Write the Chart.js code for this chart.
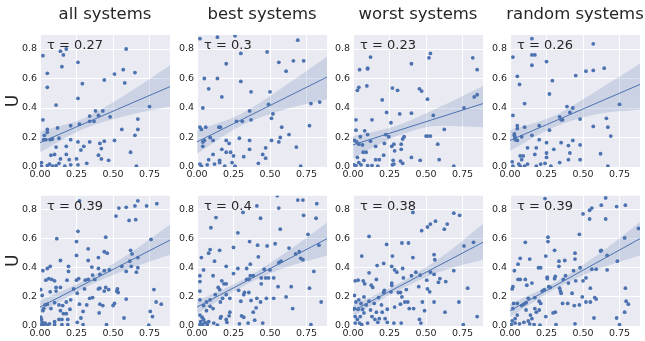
<!DOCTYPE html>
<html>
<head>
<meta charset="utf-8">
<script src="https://cdn.jsdelivr.net/npm/chart.js@4/dist/chart.umd.min.js"></script>
<style>
  body { margin: 0; background: #fff; }
  #wrap { position: relative; width: 645px; height: 341px; overflow: hidden; }
  #wrap canvas { position: absolute; }
</style>
</head>
<body>
<div id="wrap"></div>
<script>
//////////////////////////////////////////////////
// Data

const titles = ['all systems', 'best systems', 'worst systems', 'random systems']
const tauLabels = ['τ = 0.27', 'τ = 0.3', 'τ = 0.23', 'τ = 0.26', 'τ = 0.39', 'τ = 0.4', 'τ = 0.38', 'τ = 0.39']
const yLabel = 'U'
const xTicks = [0, 0.25, 0.5, 0.75]
const yTicks = [0, 0.2, 0.4, 0.6, 0.8]

const allTop = [[0.02,0.755],[0.05,0.635],[0.05,0.54],[0.11,0.42],[0.14,0.785],[0.16,0.76],[0.18,0.80],[0.15,0.68],[0.26,0.71],[0.29,0.565],[0.26,0.465],[0.02,0.32],[0.51,0.63],[0.57,0.66],[0.59,0.80],[0.58,0.57],[0.65,0.64],[0.44,0.59],[0.75,0.41],[0.67,0.325],[0.67,0.255],[0.56,0.255],[0.65,0.215],[0.62,0.10],[0.48,0.34],[0.51,0.18],[0.41,0.16],[0.44,0.175],[0.42,0.125],[0.40,0.08],[0.42,0.055],[0.47,0.045],[0.34,0.345],[0.34,0.31],[0.37,0.31],[0.38,0.38],[0.40,0.35],[0.43,0.38],[0.27,0.29],[0.21,0.28],[0.12,0.265],[0.05,0.255],[0.05,0.235],[0.03,0.215],[0.025,0.185],[0.04,0.185],[0.07,0.185],[0.085,0.19],[0.13,0.195],[0.34,0.17],[0.30,0.14],[0.26,0.17],[0.28,0.115],[0.21,0.185],[0.18,0.14],[0.11,0.135],[0.10,0.085],[0.075,0.08],[0.18,0.085],[0.20,0.05],[0.14,0.055],[0.13,0.025],[0.11,0.01],[0.065,0.02],[0.01,0.03],[0.01,0.005],[0.085,0.005],[0.17,0.005],[0.21,0.015],[0.26,0.015],[0.25,0.055],[0.32,0.025],[0.66,0.005],[0.05,0.01]]

const bestTop = [[0.02,0.87],[0.14,0.88],[0.26,0.89],[0.69,0.86],[0.48,0.78],[0.30,0.77],[0.20,0.70],[0.56,0.71],[0.66,0.72],[0.73,0.72],[0.61,0.65],[0.05,0.60],[0.14,0.60],[0.30,0.58],[0.08,0.53],[0.17,0.475],[0.37,0.51],[0.50,0.51],[0.04,0.40],[0.49,0.425],[0.52,0.36],[0.51,0.33],[0.36,0.38],[0.37,0.32],[0.78,0.43],[0.84,0.44],[0.77,0.28],[0.58,0.27],[0.63,0.22],[0.02,0.27],[0.03,0.255],[0.06,0.27],[0.15,0.27],[0.16,0.27],[0.27,0.31],[0.31,0.31],[0.09,0.20],[0.11,0.18],[0.04,0.17],[0.04,0.14],[0.05,0.18],[0.20,0.18],[0.22,0.16],[0.29,0.195],[0.36,0.18],[0.36,0.12],[0.17,0.12],[0.23,0.10],[0.20,0.10],[0.25,0.075],[0.32,0.07],[0.45,0.085],[0.47,0.13],[0.47,0.06],[0.51,0.18],[0.57,0.20],[0.56,0.17],[0.68,0.135],[0.42,0.025],[0.08,0.05],[0.11,0.085],[0.155,0.045],[0.155,0.03],[0.07,0.015],[0.12,0.02],[0.02,0.02],[0.03,0.005],[0.19,0.005],[0.24,0.03],[0.26,0.005],[0.71,0.005]]

const worstTop = [[0.12,0.745],[0.045,0.66],[0.10,0.67],[0.10,0.665],[0.04,0.54],[0.03,0.52],[0.095,0.55],[0.40,0.70],[0.53,0.77],[0.52,0.74],[0.82,0.74],[0.85,0.66],[0.27,0.535],[0.305,0.52],[0.455,0.53],[0.47,0.515],[0.20,0.455],[0.51,0.46],[0.85,0.49],[0.83,0.475],[0.76,0.40],[0.23,0.37],[0.40,0.365],[0.32,0.36],[0.55,0.35],[0.02,0.32],[0.13,0.32],[0.26,0.30],[0.02,0.25],[0.08,0.245],[0.625,0.255],[0.01,0.18],[0.025,0.17],[0.04,0.155],[0.065,0.15],[0.10,0.22],[0.05,0.205],[0.245,0.205],[0.225,0.22],[0.215,0.16],[0.35,0.205],[0.34,0.19],[0.50,0.21],[0.51,0.21],[0.53,0.21],[0.58,0.155],[0.33,0.155],[0.28,0.155],[0.265,0.14],[0.285,0.11],[0.33,0.12],[0.155,0.14],[0.12,0.175],[0.09,0.10],[0.07,0.10],[0.03,0.065],[0.155,0.05],[0.18,0.05],[0.21,0.08],[0.40,0.065],[0.275,0.045],[0.325,0.04],[0.34,0.025],[0.46,0.045],[0.59,0.05],[0.075,0.045],[0.04,0.03],[0.055,0.015],[0.02,0.01],[0.10,0.01],[0.13,0.01],[0.17,0.005],[0.27,0.015],[0.28,0.02],[0.69,0.005],[0.005,0.015]]

const randomTop = [[0.02,0.745],[0.15,0.87],[0.57,0.835],[0.15,0.76],[0.17,0.76],[0.15,0.69],[0.25,0.715],[0.05,0.615],[0.065,0.56],[0.29,0.585],[0.45,0.62],[0.52,0.65],[0.57,0.655],[0.645,0.67],[0.10,0.43],[0.27,0.495],[0.02,0.35],[0.39,0.41],[0.43,0.40],[0.41,0.37],[0.34,0.34],[0.35,0.32],[0.36,0.32],[0.48,0.325],[0.75,0.425],[0.66,0.33],[0.67,0.27],[0.57,0.275],[0.69,0.21],[0.62,0.09],[0.03,0.225],[0.03,0.215],[0.035,0.20],[0.05,0.28],[0.05,0.26],[0.08,0.205],[0.035,0.185],[0.05,0.18],[0.10,0.27],[0.15,0.215],[0.20,0.28],[0.27,0.25],[0.20,0.185],[0.25,0.165],[0.35,0.165],[0.43,0.18],[0.18,0.13],[0.12,0.13],[0.30,0.12],[0.40,0.145],[0.48,0.15],[0.41,0.095],[0.25,0.095],[0.07,0.075],[0.09,0.075],[0.08,0.05],[0.17,0.085],[0.25,0.065],[0.34,0.03],[0.40,0.05],[0.48,0.05],[0.015,0.035],[0.06,0.02],[0.02,0.005],[0.07,0.005],[0.12,0.02],[0.10,0.005],[0.18,0.005],[0.21,0.02],[0.24,0.025],[0.28,0.005],[0.67,0.005]]

const allBottom = [[0.27,0.86],[0.80,0.84],[0.67,0.86],[0.73,0.825],[0.65,0.825],[0.59,0.815],[0.54,0.81],[0.52,0.755],[0.61,0.725],[0.655,0.73],[0.115,0.60],[0.26,0.65],[0.45,0.61],[0.76,0.595],[0.25,0.58],[0.14,0.45],[0.33,0.53],[0.44,0.51],[0.46,0.50],[0.62,0.52],[0.63,0.495],[0.25,0.485],[0.40,0.47],[0.33,0.45],[0.355,0.405],[0.615,0.445],[0.67,0.47],[0.67,0.40],[0.625,0.41],[0.66,0.37],[0.56,0.41],[0.59,0.375],[0.475,0.385],[0.44,0.38],[0.40,0.395],[0.41,0.355],[0.36,0.35],[0.375,0.32],[0.33,0.32],[0.31,0.315],[0.265,0.325],[0.25,0.315],[0.195,0.375],[0.195,0.41],[0.185,0.315],[0.07,0.41],[0.05,0.395],[0.02,0.38],[0.06,0.325],[0.04,0.315],[0.08,0.32],[0.10,0.31],[0.14,0.265],[0.11,0.265],[0.11,0.24],[0.07,0.235],[0.015,0.21],[0.005,0.25],[0.23,0.255],[0.255,0.225],[0.305,0.255],[0.34,0.19],[0.36,0.195],[0.40,0.255],[0.41,0.26],[0.44,0.24],[0.47,0.25],[0.45,0.265],[0.53,0.255],[0.535,0.23],[0.525,0.24],[0.59,0.185],[0.51,0.155],[0.50,0.14],[0.41,0.15],[0.43,0.14],[0.32,0.145],[0.27,0.15],[0.21,0.18],[0.18,0.165],[0.13,0.145],[0.155,0.14],[0.10,0.16],[0.05,0.15],[0.035,0.145],[0.025,0.12],[0.02,0.105],[0.075,0.12],[0.14,0.105],[0.16,0.085],[0.18,0.085],[0.205,0.115],[0.295,0.10],[0.405,0.09],[0.28,0.055],[0.255,0.025],[0.19,0.045],[0.13,0.045],[0.15,0.045],[0.10,0.03],[0.065,0.015],[0.015,0.025],[0.025,0.01],[0.035,0.02],[0.10,0.01],[0.15,0.01],[0.19,0.01],[0.295,0.01],[0.455,0.01],[0.575,0.055],[0.745,0.005],[0.005,0.06],[0.755,0.10],[0.77,0.065],[0.78,0.25],[0.795,0.165],[0.83,0.15],[0.005,0.005],[0.05,0.005],[0.01,0.045]]

const bestBottom = [[0.55,0.895],[0.69,0.865],[0.725,0.865],[0.82,0.84],[0.41,0.825],[0.315,0.78],[0.56,0.81],[0.435,0.74],[0.13,0.745],[0.73,0.76],[0.815,0.74],[0.095,0.675],[0.57,0.665],[0.28,0.64],[0.76,0.63],[0.36,0.58],[0.535,0.565],[0.48,0.55],[0.415,0.555],[0.835,0.555],[0.63,0.535],[0.25,0.54],[0.09,0.525],[0.08,0.50],[0.155,0.52],[0.03,0.47],[0.42,0.475],[0.70,0.51],[0.675,0.495],[0.71,0.465],[0.725,0.455],[0.575,0.445],[0.56,0.435],[0.12,0.445],[0.20,0.41],[0.365,0.425],[0.045,0.385],[0.28,0.395],[0.11,0.345],[0.02,0.345],[0.46,0.39],[0.50,0.385],[0.525,0.33],[0.47,0.33],[0.44,0.33],[0.49,0.33],[0.44,0.29],[0.385,0.345],[0.365,0.345],[0.355,0.32],[0.34,0.32],[0.25,0.36],[0.34,0.395],[0.80,0.375],[0.645,0.27],[0.555,0.27],[0.77,0.26],[0.17,0.31],[0.185,0.29],[0.20,0.29],[0.145,0.265],[0.155,0.25],[0.125,0.215],[0.09,0.18],[0.065,0.165],[0.045,0.14],[0.02,0.18],[0.02,0.24],[0.02,0.305],[0.20,0.215],[0.225,0.19],[0.175,0.19],[0.16,0.165],[0.285,0.245],[0.325,0.23],[0.355,0.23],[0.32,0.215],[0.30,0.17],[0.41,0.19],[0.37,0.175],[0.405,0.125],[0.435,0.165],[0.475,0.19],[0.525,0.19],[0.61,0.20],[0.655,0.12],[0.85,0.165],[0.305,0.07],[0.32,0.06],[0.385,0.095],[0.225,0.095],[0.22,0.07],[0.165,0.065],[0.16,0.055],[0.20,0.045],[0.205,0.025],[0.29,0.015],[0.35,0.02],[0.45,0.02],[0.395,0.04],[0.02,0.075],[0.035,0.06],[0.045,0.045],[0.025,0.03],[0.055,0.025],[0.08,0.03],[0.115,0.02],[0.14,0.005],[0.02,0.01],[0.04,0.01],[0.07,0.01],[0.78,0.01],[0.09,0.135],[0.11,0.12],[0.065,0.105]]

const worstBottom = [[0.41,0.78],[0.69,0.775],[0.73,0.76],[0.565,0.72],[0.53,0.70],[0.51,0.68],[0.47,0.655],[0.645,0.70],[0.625,0.665],[0.11,0.615],[0.76,0.55],[0.825,0.575],[0.23,0.56],[0.335,0.57],[0.38,0.57],[0.06,0.48],[0.27,0.48],[0.41,0.47],[0.555,0.49],[0.56,0.455],[0.165,0.415],[0.21,0.43],[0.265,0.41],[0.285,0.385],[0.30,0.37],[0.34,0.395],[0.11,0.365],[0.16,0.32],[0.035,0.315],[0.015,0.31],[0.07,0.31],[0.08,0.29],[0.265,0.295],[0.265,0.28],[0.345,0.33],[0.40,0.345],[0.43,0.37],[0.46,0.35],[0.53,0.37],[0.555,0.355],[0.505,0.315],[0.585,0.30],[0.595,0.325],[0.635,0.305],[0.69,0.38],[0.125,0.28],[0.135,0.265],[0.45,0.27],[0.51,0.255],[0.525,0.235],[0.325,0.23],[0.31,0.23],[0.26,0.235],[0.215,0.245],[0.21,0.23],[0.175,0.195],[0.365,0.25],[0.335,0.20],[0.355,0.165],[0.325,0.15],[0.375,0.165],[0.385,0.12],[0.415,0.12],[0.475,0.165],[0.49,0.105],[0.555,0.165],[0.63,0.095],[0.785,0.26],[0.725,0.165],[0.85,0.065],[0.01,0.21],[0.02,0.165],[0.04,0.18],[0.055,0.155],[0.075,0.20],[0.09,0.145],[0.11,0.17],[0.145,0.155],[0.195,0.145],[0.01,0.12],[0.035,0.115],[0.065,0.115],[0.12,0.11],[0.16,0.095],[0.20,0.095],[0.235,0.115],[0.285,0.13],[0.13,0.065],[0.15,0.045],[0.18,0.05],[0.17,0.025],[0.22,0.05],[0.235,0.025],[0.28,0.02],[0.33,0.02],[0.455,0.045],[0.465,0.02],[0.015,0.065],[0.03,0.045],[0.015,0.02],[0.045,0.02],[0.06,0.01],[0.10,0.02],[0.755,0.01],[0.075,0.09],[0.05,0.065]]

const randomBottom = [[0.24,0.875],[0.655,0.88],[0.625,0.83],[0.73,0.82],[0.79,0.83],[0.56,0.81],[0.545,0.795],[0.50,0.77],[0.545,0.735],[0.655,0.735],[0.88,0.67],[0.475,0.63],[0.26,0.61],[0.26,0.58],[0.105,0.575],[0.785,0.605],[0.305,0.52],[0.62,0.515],[0.625,0.52],[0.445,0.50],[0.07,0.465],[0.245,0.48],[0.445,0.46],[0.665,0.485],[0.735,0.445],[0.335,0.445],[0.335,0.41],[0.375,0.45],[0.055,0.425],[0.135,0.46],[0.195,0.40],[0.21,0.40],[0.03,0.38],[0.435,0.38],[0.48,0.40],[0.56,0.39],[0.59,0.39],[0.665,0.385],[0.255,0.335],[0.255,0.325],[0.31,0.34],[0.305,0.325],[0.38,0.345],[0.365,0.32],[0.45,0.31],[0.50,0.31],[0.52,0.33],[0.40,0.295],[0.055,0.32],[0.07,0.32],[0.105,0.32],[0.115,0.28],[0.15,0.295],[0.02,0.27],[0.015,0.255],[0.275,0.265],[0.265,0.27],[0.235,0.25],[0.22,0.24],[0.34,0.26],[0.345,0.24],[0.35,0.225],[0.425,0.225],[0.495,0.20],[0.55,0.26],[0.58,0.195],[0.59,0.185],[0.55,0.165],[0.52,0.165],[0.36,0.155],[0.395,0.155],[0.44,0.14],[0.475,0.145],[0.79,0.26],[0.795,0.17],[0.81,0.15],[0.785,0.095],[0.73,0.055],[0.575,0.055],[0.445,0.015],[0.31,0.095],[0.295,0.09],[0.245,0.065],[0.20,0.17],[0.21,0.155],[0.17,0.195],[0.125,0.19],[0.11,0.16],[0.095,0.15],[0.08,0.14],[0.05,0.155],[0.025,0.155],[0.02,0.12],[0.17,0.12],[0.20,0.11],[0.18,0.095],[0.14,0.075],[0.15,0.05],[0.125,0.035],[0.135,0.015],[0.165,0.01],[0.205,0.005],[0.315,0.01],[0.05,0.075],[0.035,0.05],[0.015,0.035],[0.035,0.02],[0.065,0.015],[0.095,0.025],[0.01,0.01],[0.11,0.11],[0.75,0.01]]

// regression line (value at x = 0 and at right edge) and confidence band
const lineX = [0, 0.89]
const lineStart = [0.165, 0.17, 0.15, 0.18, 0.13, 0.13, 0.105, 0.105]
const lineEnd = [0.545, 0.61, 0.43, 0.56, 0.59, 0.60, 0.575, 0.60]
const bandX = [0, 0.3, 0.6, 0.89]
const bandUpper = [
  [0.24, 0.33, 0.50, 0.69],
  [0.25, 0.36, 0.55, 0.75],
  [0.21, 0.28, 0.41, 0.55],
  [0.25, 0.345, 0.52, 0.70],
  [0.175, 0.31, 0.49, 0.695],
  [0.175, 0.31, 0.50, 0.71],
  [0.145, 0.285, 0.47, 0.70],
  [0.15, 0.295, 0.49, 0.715]
]
const bandLower = [
  [0.10, 0.26, 0.35, 0.41],
  [0.09, 0.28, 0.39, 0.46],
  [0.06, 0.21, 0.28, 0.27],
  [0.11, 0.27, 0.36, 0.39],
  [0.09, 0.26, 0.39, 0.49],
  [0.085, 0.265, 0.40, 0.485],
  [0.065, 0.24, 0.375, 0.455],
  [0.06, 0.25, 0.39, 0.485]
]

const panelPoints = [allTop, bestTop, worstTop, randomTop, allBottom, bestBottom, worstBottom, randomBottom]

//////////////////////////////////////////////////
// Style

const FONT = 'DejaVu Sans'
const TEXT = '#262626'
const BLUE = '#4C72B0'
const plotLefts = [40, 197, 353, 510]
const plotW = 130

const plotBg = {
  id: 'plotBg',
  beforeDraw: (chart) => {
    const { ctx, chartArea: a } = chart
    ctx.save()
    ctx.fillStyle = '#EAEAF2'
    ctx.fillRect(a.left, a.top, a.right - a.left, a.bottom - a.top)
    ctx.restore()
  }
}

// panel title (centred on the plot area) and the tau label inside the plot
const panelText = {
  id: 'panelText',
  afterDatasetsDraw: (chart, args, opts) => {
    const { ctx, chartArea: a } = chart
    ctx.save()
    ctx.fillStyle = TEXT
    ctx.textBaseline = 'middle'
    ctx.font = `13px "${FONT}"`
    ctx.fillText(opts.tau, a.left + 7, a.top + 11)
    if (opts.title) {
      ctx.font = `16.5px "${FONT}"`
      ctx.textAlign = 'center'
      ctx.fillText(opts.title, (a.left + a.right) / 2, 15)
    }
    ctx.restore()
  }
}

//////////////////////////////////////////////////
// Panels

const wrap = document.getElementById('wrap')

panelPoints.forEach((points, i) => {
  const row = Math.floor(i / 4)
  const col = i % 4
  const canvas = document.createElement('canvas')
  const width = 40 + plotW + 4
  const height = row === 0 ? 185 : 154
  canvas.width = width
  canvas.height = height
  canvas.style.left = (plotLefts[col] - 40) + 'px'
  canvas.style.top = (row === 0 ? 0 : 187) + 'px'
  wrap.appendChild(canvas)

  const xAxisHeight = row === 0 ? 18 : 15

  new Chart(canvas, {
    type: 'scatter',
    plugins: [plotBg, panelText],
    data: {
      datasets: [
        {
          data: points,
          backgroundColor: BLUE,
          pointRadius: 1.9,
          pointBorderWidth: 0,
          clip: 0,
          order: 3
        },
        {
          type: 'line',
          data: bandX.map((x, k) => ({ x, y: bandUpper[i][k] })),
          borderWidth: 0,
          pointRadius: 0,
          cubicInterpolationMode: 'monotone',
          fill: '+1',
          backgroundColor: 'rgba(76,114,176,0.2)',
          order: 2
        },
        {
          type: 'line',
          data: bandX.map((x, k) => ({ x, y: bandLower[i][k] })),
          borderWidth: 0,
          pointRadius: 0,
          cubicInterpolationMode: 'monotone',
          fill: false,
          order: 2
        },
        {
          type: 'line',
          data: [{ x: lineX[0], y: lineStart[i] }, { x: lineX[1], y: lineEnd[i] }],
          borderColor: BLUE,
          borderWidth: 1,
          pointRadius: 0,
          fill: false,
          order: 1
        }
      ]
    },
    options: {
      responsive: false,
      animation: false,
      devicePixelRatio: 1,
      layout: {
        padding: { top: row === 0 ? 35 : 8, right: 4, left: 0, bottom: 0 }
      },
      plugins: {
        legend: { display: false },
        tooltip: { enabled: false },
        title: { display: false },
        panelText: { tau: tauLabels[i], title: row === 0 ? titles[col] : '' }
      },
      scales: {
        x: {
          type: 'linear',
          min: 0,
          max: 0.89,
          afterBuildTicks: (scale) => { scale.ticks = xTicks.map((v) => ({ value: v })) },
          afterFit: (scale) => { scale.height = xAxisHeight },
          ticks: {
            color: TEXT,
            font: { family: FONT, size: 9.5 },
            padding: 2,
            maxRotation: 0,
            callback: (v) => Number(v).toFixed(2)
          },
          grid: { color: '#FFFFFF', lineWidth: 1, drawTicks: false },
          border: { display: false }
        },
        y: {
          type: 'linear',
          min: 0,
          max: 0.895,
          afterBuildTicks: (scale) => { scale.ticks = yTicks.map((v) => ({ value: v })) },
          afterFit: (scale) => { scale.width = 40 },
          ticks: {
            color: TEXT,
            font: { family: FONT, size: 9.5 },
            padding: 3,
            callback: (v) => Number(v).toFixed(1)
          },
          grid: { color: '#FFFFFF', lineWidth: 1, drawTicks: false },
          border: { display: false },
          title: {
            display: col === 0,
            text: yLabel,
            color: TEXT,
            font: { family: FONT, size: 17 },
            padding: { top: 3, bottom: 0 }
          }
        }
      }
    }
  })
})
</script>
</body>
</html>
